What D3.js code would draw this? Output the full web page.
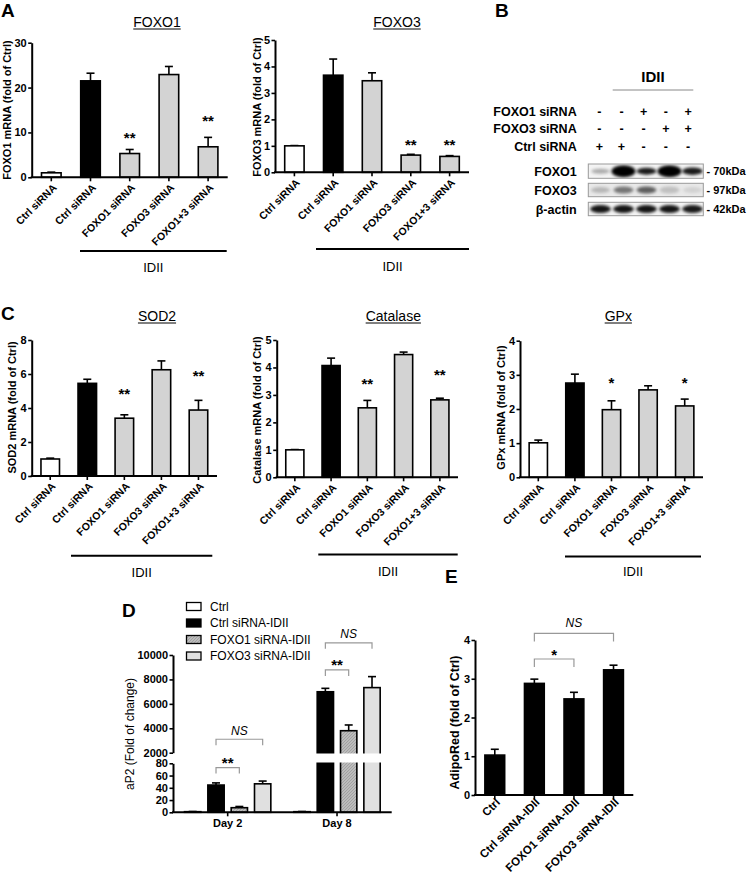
<!DOCTYPE html>
<html><head><meta charset="utf-8">
<script src="https://cdn.jsdelivr.net/npm/d3@7"></script>
<style>body{margin:0;background:#fff}svg{display:block;font-family:"Liberation Sans",Arial,sans-serif}</style>
</head><body>
<script>
// ---------- DATA ----------
const siLabels = ["Ctrl siRNA","Ctrl siRNA","FOXO1 siRNA","FOXO3 siRNA","FOXO1+3 siRNA"];
const foxo1Values = [1.0, 21.5, 5.3, 22.9, 6.8];
const foxo1Errors = [0.15, 1.7, 0.9, 1.8, 2.1];
const foxo1Stars = ["","","**","","**"];
const foxo1StarLevels = [0,0,9.4,0,13.2];
const foxo1Ticks = [0,10,20,30];

const foxo3Values = [1.0, 3.67, 3.46, 0.65, 0.6];
const foxo3Errors = [0.01, 0.61, 0.3, 0.03, 0.03];
const foxo3Stars = ["","","","**","**"];
const foxo3StarLevels = [0,0,0,1.15,1.15];
const foxo3Ticks = [0,1,2,3,4,5];

const sod2Values = [1.0, 5.45, 3.4, 6.25, 3.88];
const sod2Errors = [0.05, 0.24, 0.2, 0.52, 0.57];
const sod2Stars = ["","","**","","**"];
const sod2StarLevels = [0,0,5.0,0,6.08];
const sod2Ticks = [0,2,4,6,8];

const catValues = [1.0, 4.07, 2.53, 4.47, 2.82];
const catErrors = [0.01, 0.27, 0.27, 0.09, 0.06];
const catStars = ["","","**","","**"];
const catStarLevels = [0,0,3.5,0,3.83];
const catTicks = [0,1,2,3,4,5];

const gpxValues = [1.01, 2.76, 1.98, 2.56, 2.09];
const gpxErrors = [0.08, 0.26, 0.26, 0.12, 0.2];
const gpxStars = ["","","*","","*"];
const gpxStarLevels = [0,0,2.85,0,2.85];
const gpxTicks = [0,1,2,3,4];

// Western blot (panel B)
const blotFOXO1siRNA = ["-","-","+","-","+"];
const blotFOXO3siRNA = ["-","-","-","+","+"];
const blotCtrlsiRNA  = ["+","+","-","-","-"];
const blotRows = ["FOXO1","FOXO3","β-actin"];
const blotKDa = ["- 70kDa","- 97kDa","- 42kDa"];
const bandFOXO1 = [0.3, 1.0, 0.9, 1.0, 0.9];
const bandFOXO1Thick = [0.3, 1.0, 0.5, 1.0, 0.55];
const bandFOXO3 = [0.22, 0.5, 0.6, 0.18, 0.1];
const bandFOXO3Thick = [0.4, 0.5, 0.5, 0.5, 0.4];
const bandActin = [0.92, 0.92, 0.92, 0.92, 0.9];
const bandActinThick = [0.6, 0.6, 0.6, 0.6, 0.6];

// Panel D
const dGroups = ["Day 2","Day 8"];
const dSeries = ["Ctrl","Ctrl siRNA-IDII","FOXO1 siRNA-IDII","FOXO3 siRNA-IDII"];
const dDay2 = [1, 44.5, 7.5, 46.5];
const dDay2Err = [0.3, 3.5, 2.0, 4.5];
const dDay8 = [1, 6990, 3800, 7330];
const dDay8Err = [0.3, 280, 470, 900];
const dLowerTicks = [0,20,40,60,80];
const dUpperTicks = [2000,4000,6000,8000,10000];
const dBrackets = [
  {group:0, from:1, to:3, level:3100, label:"NS"},
  {group:0, from:1, to:2, level:73, label:"**"},
  {group:1, from:1, to:3, level:11000, label:"NS"},
  {group:1, from:1, to:2, level:8780, label:"**"}
];

// Panel E
const eLabels = ["Ctrl","Ctrl siRNA-IDII","FOXO1 siRNA-IDII","FOXO3 siRNA-IDII"];
const eValues = [1.03, 2.88, 2.48, 3.23];
const eErrors = [0.15, 0.11, 0.17, 0.12];
const eTicks = [0,1,2,3,4];
const eBrackets = [
  {from:1, to:3, level:4.17, label:"NS"},
  {from:1, to:2, level:3.51, label:"*"}
];

// ---------- DRAWING ----------
const svg = d3.select("body").append("svg").attr("width",747).attr("height",876);
const defs = svg.append("defs");
defs.append("filter").attr("id","blur").attr("x","-50%").attr("y","-150%").attr("width","200%").attr("height","400%")
  .append("feGaussianBlur").attr("stdDeviation",1.4);
const hatch = defs.append("pattern").attr("id","hatch").attr("patternUnits","userSpaceOnUse").attr("width",3).attr("height",3);
hatch.append("rect").attr("width",3).attr("height",3).attr("fill","#bcbcbc");
hatch.append("path").attr("d","M0,3L3,0").attr("stroke","#9a9a9a").attr("stroke-width",0.8);

const siFills = ["#ffffff","#000000","#d3d3d3","#d3d3d3","#d3d3d3"];

function styleAxis(sel, fs){
  sel.attr("font-family",null).attr("font-size",null);
  sel.select(".domain").attr("stroke","#000").attr("stroke-width",2);
  sel.selectAll(".tick line").attr("stroke","#000").attr("stroke-width",1.6);
  sel.selectAll(".tick text").attr("fill","#000").attr("font-size",fs).attr("font-weight","bold");
}

function starText(g, x, yc, label){
  if(label === "NS"){
    g.append("text").attr("x",x).attr("y",yc+4.3).attr("text-anchor","middle")
      .attr("font-size",12).attr("font-style","italic").text("NS");
  } else {
    g.append("text").attr("x",x).attr("y",yc+8).attr("text-anchor","middle")
      .attr("font-size",15).attr("font-weight","bold").text(label);
  }
}

function letter(t,x,y){
  svg.append("text").attr("x",x).attr("y",y).attr("font-size",19).attr("font-weight","bold").text(t);
}

function errorBars(g, xs, ys, vals, errs){
  vals.forEach((v,i)=>{
    const cx = xs(i), y1 = ys(v), y2 = ys(v+errs[i]);
    g.append("line").attr("x1",cx).attr("x2",cx).attr("y1",y1).attr("y2",y2).attr("stroke","#000").attr("stroke-width",1.6);
    g.append("line").attr("x1",cx-4).attr("x2",cx+4).attr("y1",y2).attr("y2",y2).attr("stroke","#000").attr("stroke-width",1.6);
  });
}

function barPanel(o){
  const g = svg.append("g");
  const x = d3.scaleBand().domain(d3.range(o.values.length)).range([o.x0,o.x1]).paddingInner(0.5).paddingOuter(0.25);
  const y = d3.scaleLinear().domain([0,d3.max(o.ticks)]).range([o.y0,o.yTop]);
  const cx = i => x(i)+x.bandwidth()/2;
  errorBars(g, cx, y, o.values, o.errors);
  g.selectAll(".bar").data(o.values).join("rect").attr("class","bar")
    .attr("x",(d,i)=>x(i)).attr("y",d=>y(d)).attr("width",x.bandwidth()).attr("height",d=>y(0)-y(d))
    .attr("fill",(d,i)=>o.fills[i]).attr("stroke","#000").attr("stroke-width",1.6);
  const ya = g.append("g").attr("transform",`translate(${o.x0},0)`)
    .call(d3.axisLeft(y).tickValues(o.ticks).tickSize(3.5).tickPadding(1.5).tickSizeOuter(0).tickFormat(d3.format("d")));
  styleAxis(ya, 11);
  const xa = g.append("g").attr("transform",`translate(0,${o.y0})`)
    .call(d3.axisBottom(x).tickSize(4).tickSizeOuter(0).tickFormat(i=>o.labels[i]));
  styleAxis(xa, o.labelSize || 10.5);
  xa.select(".domain").attr("d",`M${o.x0-1},0H${o.x1}`);
  xa.selectAll(".tick text").attr("text-anchor","end").attr("x",0).attr("y",0).attr("dy",null)
    .attr("transform",`translate(${o.lx||6},${o.ly||11}) rotate(-45)`);
  o.stars.forEach((s,i)=>{ if(s) starText(g, cx(i), y(o.starLevels[i]), s); });
  if(o.title){
    const t = g.append("text").attr("x",o.titleX).attr("y",o.titleY).attr("text-anchor","middle")
      .attr("font-size",14).text(o.title);
    const w = t.node().getComputedTextLength();
    g.append("line").attr("x1",o.titleX-w/2).attr("x2",o.titleX+w/2).attr("y1",o.titleY+2).attr("y2",o.titleY+2)
      .attr("stroke","#000").attr("stroke-width",1);
  }
  if(o.idii){
    g.append("line").attr("x1",o.idii[0]).attr("x2",o.idii[1]).attr("y1",o.idii[2]).attr("y2",o.idii[2])
      .attr("stroke","#000").attr("stroke-width",2);
    g.append("text").attr("x",(o.idii[0]+o.idii[1])/2).attr("y",o.idii[3]).attr("text-anchor","middle")
      .attr("font-size",13).text("IDII");
  }
  g.append("text").attr("transform",`translate(${o.ylx},${o.yly}) rotate(-90)`).attr("text-anchor","middle")
    .attr("font-size",o.ylSize||11).attr("font-weight",o.ylWeight||"bold").text(o.ylabel);
  return {x,y,g};
}

// Panel A
letter("A",1,17);
barPanel({values:foxo1Values, errors:foxo1Errors, stars:foxo1Stars, starLevels:foxo1StarLevels, ticks:foxo1Ticks,
  labels:siLabels, fills:siFills, x0:31.7, x1:227.7, y0:177.3, yTop:42.7,
  title:"FOXO1", titleX:157, titleY:27, idii:[80,226.7,251,271.5], ylabel:"FOXO1 mRNA (fold of Ctrl)", ylx:11, yly:110});
barPanel({values:foxo3Values, errors:foxo3Errors, stars:foxo3Stars, starLevels:foxo3StarLevels, ticks:foxo3Ticks,
  labels:siLabels, fills:siFills, x0:275, x1:469, y0:172.3, yTop:40,
  title:"FOXO3", titleX:397, titleY:27, idii:[316,469,249,271], ylabel:"FOXO3 mRNA (fold of Ctrl)", ylx:261, yly:107});

// Panel C
letter("C",1,320);
barPanel({values:sod2Values, errors:sod2Errors, stars:sod2Stars, starLevels:sod2StarLevels, ticks:sod2Ticks,
  labels:siLabels, fills:siFills, x0:31.7, x1:217, y0:476, yTop:340,
  title:"SOD2", titleX:157, titleY:321, idii:[71,212.3,555.7,576.5], ylabel:"SOD2 mRNA (fold of Ctrl)", ylx:16, yly:407.5});
barPanel({values:catValues, errors:catErrors, stars:catStars, starLevels:catStarLevels, ticks:catTicks,
  labels:siLabels, fills:siFills, x0:276.7, x1:458, y0:477.3, yTop:340,
  title:"Catalase", titleX:393.3, titleY:321, idii:[318.3,457.7,554.5,575.5], ylabel:"Catalase mRNA (fold of Ctrl)", ylx:261, yly:410});
barPanel({values:gpxValues, errors:gpxErrors, stars:gpxStars, starLevels:gpxStarLevels, ticks:gpxTicks,
  labels:siLabels, fills:siFills, x0:520, x1:703, y0:477.3, yTop:340.7,
  title:"GPx", titleX:618.3, titleY:321, idii:[565,701,556.5,576], ylabel:"GPx mRNA (fold of Ctrl)", ylx:505, yly:407.5});

// Panel B : western blot
letter("B",495,17);
(function(){
  const g = svg.append("g").attr("font-weight","bold");
  const signX = d3.scaleBand().domain(d3.range(5)).range([588.2,699.2]);
  const laneX = d3.scaleBand().domain(d3.range(5)).range([589,704]);
  g.append("text").attr("x",653).attr("y",82).attr("text-anchor","middle").attr("font-size",15).text("IDII");
  g.append("line").attr("x1",612.7).attr("x2",693.3).attr("y1",90).attr("y2",90).attr("stroke","#888").attr("stroke-width",1);
  const rows = [["FOXO1 siRNA",blotFOXO1siRNA,111.7],["FOXO3 siRNA",blotFOXO3siRNA,128.3],["Ctrl siRNA",blotCtrlsiRNA,146.7]];
  rows.forEach(r=>{
    g.append("text").attr("x",576.7).attr("y",r[2]+4.5).attr("text-anchor","end").attr("font-size",12.5).text(r[0]);
    g.selectAll(null).data(r[1]).join("text").attr("x",(d,i)=>signX(i)+signX.bandwidth()/2).attr("y",r[2]+4.5)
      .attr("text-anchor","middle").attr("font-size",12.5).text(d=>d);
  });
  const boxes = [[164,178.3,bandFOXO1,bandFOXO1Thick,"#f4f4f4"],[183.3,196.7,bandFOXO3,bandFOXO3Thick,"#e9e9e9"],[202.3,215.7,bandActin,bandActinThick,"#f4f4f4"]];
  boxes.forEach((b,k)=>{
    const id="clip"+k;
    defs.append("clipPath").attr("id",id).append("rect").attr("x",588.3).attr("y",b[0]).attr("width",115).attr("height",b[1]-b[0]);
    g.append("rect").attr("x",588.3).attr("y",b[0]).attr("width",115).attr("height",b[1]-b[0]).attr("fill",b[4]);
    const cy=(b[0]+b[1])/2;
    g.append("g").attr("clip-path",`url(#${id})`).selectAll("ellipse").data(b[2]).join("ellipse")
      .attr("cx",(d,i)=>laneX(i)+laneX.bandwidth()/2).attr("cy",cy)
      .attr("rx",(d,i)=>8+4*b[3][i]).attr("ry",(d,i)=>1+5*b[3][i])
      .attr("fill","#000").attr("fill-opacity",d=>d).attr("filter","url(#blur)");
    g.append("rect").attr("x",588.3).attr("y",b[0]).attr("width",115).attr("height",b[1]-b[0])
      .attr("fill","none").attr("stroke","#999").attr("stroke-width",1);
    g.append("text").attr("x",576.7).attr("y",cy+4.5).attr("text-anchor","end").attr("font-size",12.5).text(blotRows[k]);
    g.append("text").attr("x",706.5).attr("y",cy+4).attr("font-size",11).text(blotKDa[k]);
  });
})();

// Panel D
letter("D",122,617);
(function(){
  const g = svg.append("g");
  const x0 = d3.scaleBand().domain(dGroups).range([173,391.7]);
  const x1 = d3.scaleBand().domain(d3.range(4)).range([-46.65,46.65]).paddingInner(0.3).paddingOuter(0.15);
  const yLow = d3.scaleLinear().domain([0,80]).range([812.3,763.3]);
  const yUp = d3.scaleLinear().domain([2000,10000]).range([752.7,655]);
  const yv = v => v<=80 ? yLow(v) : yUp(v);
  const fills = ["#ffffff","#000000","url(#hatch)","#e0e0e0"];
  const series = [dDay2, dDay8], errs = [dDay2Err, dDay8Err];
  dGroups.forEach((grp,gi)=>{
    const gc = x0(grp)+x0.bandwidth()/2;
    const cx = i => gc + x1(i) + x1.bandwidth()/2;
    errorBars(g, cx, yv, series[gi], errs[gi]);
    g.selectAll(null).data(series[gi]).join("rect")
      .attr("x",(d,i)=>gc+x1(i)).attr("width",x1.bandwidth())
      .attr("y",d=>yv(d)).attr("height",d=>yLow(0)-yv(d))
      .attr("fill",(d,i)=>fills[i]).attr("stroke","#000").attr("stroke-width",1.6);
  });
  g.append("rect").attr("x",176).attr("y",yUp(2000)+0.8).attr("width",215).attr("height",yLow(80)-yUp(2000)-1.6).attr("fill","#fff");
  const al = g.append("g").attr("transform","translate(173,0)").call(d3.axisLeft(yLow).tickValues(dLowerTicks).tickSize(3.5).tickPadding(1.5).tickSizeOuter(0).tickFormat(d3.format("d")));
  styleAxis(al,11);
  const au = g.append("g").attr("transform","translate(173,0)").call(d3.axisLeft(yUp).tickValues(dUpperTicks).tickSize(3.5).tickPadding(1.5).tickSizeOuter(0).tickFormat(d3.format("d")));
  styleAxis(au,11);
  const xa = g.append("g").attr("transform","translate(0,812.3)").call(d3.axisBottom(x0).tickSize(4).tickSizeOuter(0));
  styleAxis(xa,11);
  xa.select(".domain").attr("d","M172,0H391.7");
  g.append("text").attr("transform","translate(134,734) rotate(-90)").attr("text-anchor","middle").attr("font-size",12).text("aP2 (Fold of change)");
  dBrackets.forEach(b=>{
    const gc = x0(dGroups[b.group])+x0.bandwidth()/2;
    const xa1 = gc + x1(b.from)+x1.bandwidth()/2, xa2 = gc + x1(b.to)+x1.bandwidth()/2;
    const yb = yv(b.level);
    g.append("path").attr("d",`M${xa1},${yb+6}V${yb}H${xa2}V${yb+6}`).attr("fill","none").attr("stroke","#999").attr("stroke-width",1.2);
    starText(g,(xa1+xa2)/2, yb-(b.label==="NS"?9:7.5), b.label);
  });
  const lg = g.append("g");
  dSeries.forEach((s,i)=>{
    const yc = 606.5 + i*16.5;
    lg.append("rect").attr("x",186.5).attr("y",yc-4).attr("width",14.5).attr("height",8).attr("fill",fills[i]).attr("stroke","#000").attr("stroke-width",1.3);
    lg.append("text").attr("x",210).attr("y",yc+4.3).attr("font-size",12).text(s);
  });
})();

// Panel E
letter("E",445,583);
(function(){
  const r = barPanel({values:eValues, errors:eErrors, stars:["","","",""], starLevels:[0,0,0,0], ticks:eTicks,
    labels:eLabels, fills:["#000","#000","#000","#000"], x0:475, x1:633.3, y0:795, yTop:640,
    ylabel:"AdipoRed (fold of Ctrl)", ylx:459, yly:722.5, ylSize:12.5, labelSize:11.5, lx:6, ly:8});
  const cx = i => r.x(i)+r.x.bandwidth()/2;
  eBrackets.forEach(b=>{
    const yb = r.y(b.level);
    r.g.append("path").attr("d",`M${cx(b.from)},${yb+8}V${yb}H${cx(b.to)}V${yb+8}`).attr("fill","none").attr("stroke","#999").attr("stroke-width",1.2);
    starText(r.g,(cx(b.from)+cx(b.to))/2, yb-(b.label==="NS"?11:6.5), b.label);
  });
})();
</script></body></html>
